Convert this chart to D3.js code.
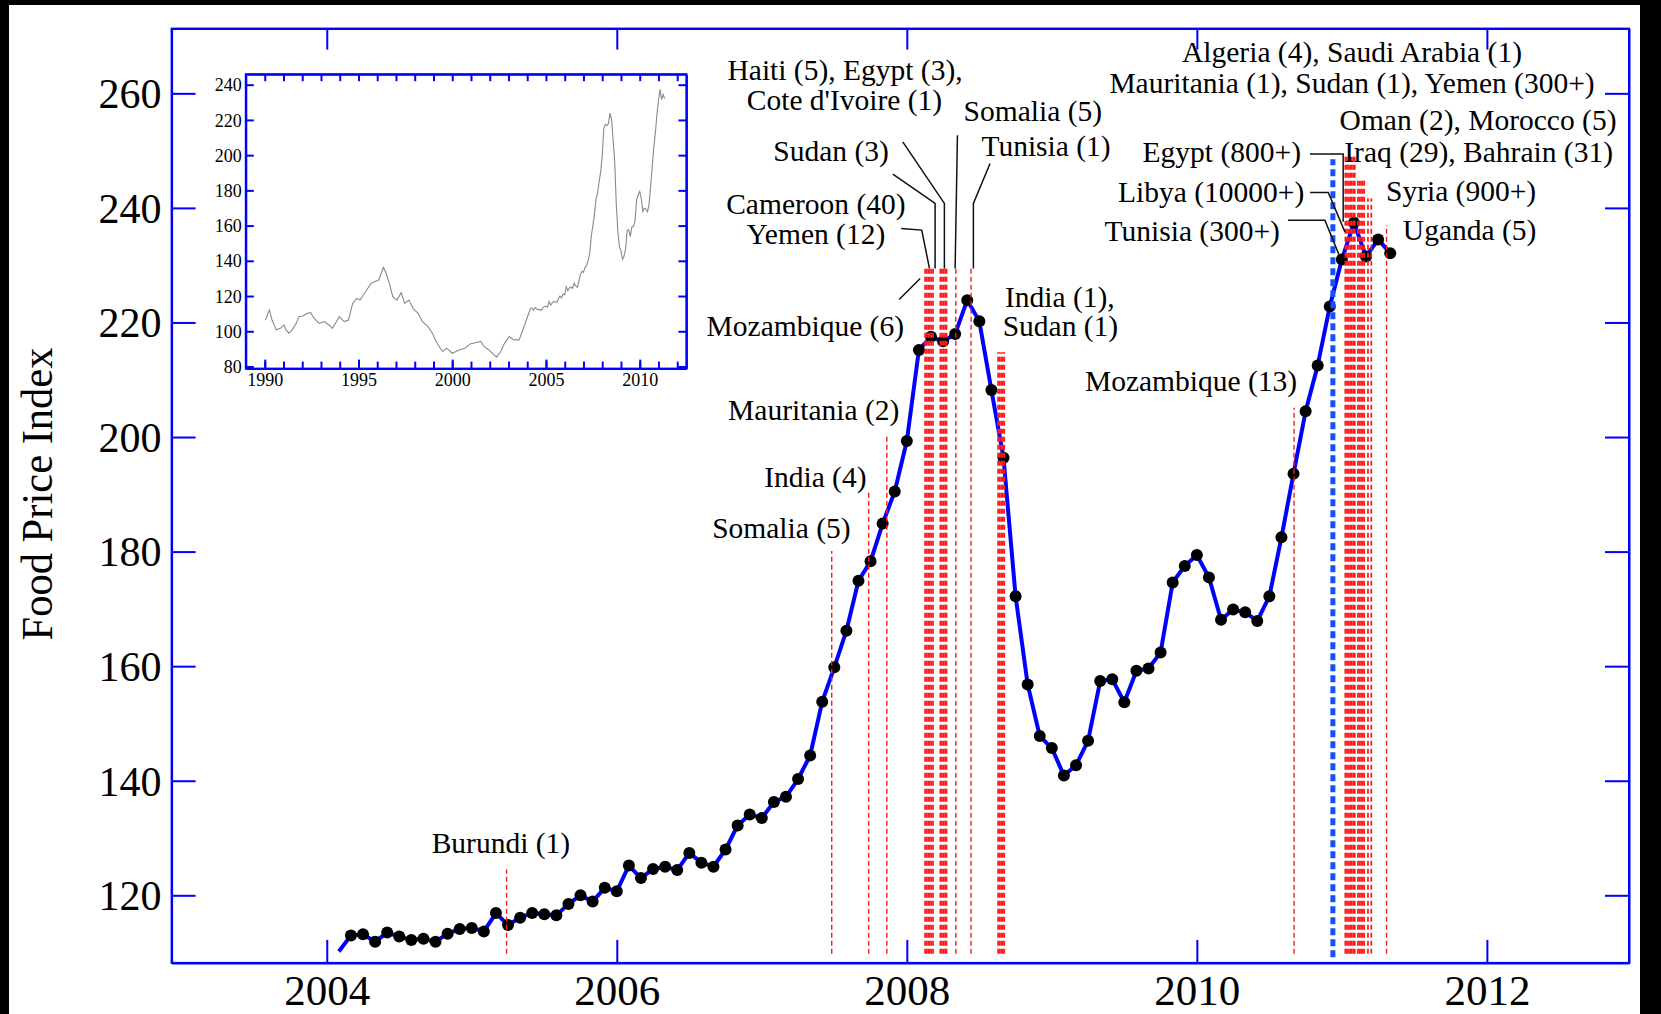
<!DOCTYPE html>
<html><head><meta charset="utf-8">
<script src="https://cdn.jsdelivr.net/npm/d3@7"></script>
<style>
html,body{margin:0;padding:0;background:#000;}
svg{display:block;}
</style></head><body>
<svg id="chart" width="1661" height="1014"></svg>
<script>
// ---------------- DATA ----------------
// FAO Food Price Index, monthly, first value = Feb 2004, last = May 2011
const seriesStart = 2004 + 1 / 12;
const foodIndex = [
  110.2, 113.0, 113.2, 111.9, 113.5, 112.8, 112.2, 112.4, 111.9, 113.3, 114.1,
  114.3, 113.7, 116.9, 114.8, 116.1, 116.9, 116.7, 116.5, 118.5, 120.0, 118.9, 121.3,
  120.7, 125.2, 123.0, 124.6, 125.0, 124.4, 127.4, 125.7, 125.0, 128.0, 132.2, 134.1,
  133.5, 136.3, 137.2, 140.3, 144.4, 153.8, 159.8, 166.2, 174.9, 178.3, 184.9, 190.5,
  199.3, 215.2, 217.5, 216.7, 218.0, 223.9, 220.2, 208.2, 196.4, 172.2, 156.8, 147.8,
  145.7, 140.9, 142.7, 147.0, 157.4, 157.7, 153.7, 159.2, 159.6, 162.4, 174.6, 177.5,
  179.4, 175.5, 168.1, 169.9, 169.4, 167.9, 172.2, 182.5, 193.6, 204.5, 212.5, 222.8,
  231.0, 237.4, 231.5, 234.5, 232.1
];
// Long history for the inset (1990-2003), [decimal year, index]
const insetHistoryYears = [
  1990.04, 1990.25, 1990.39, 1990.61, 1990.84, 1991.02, 1991.14, 1991.29, 1991.47, 1991.68,
  1991.82, 1992.04, 1992.27, 1992.45, 1992.63, 1992.90, 1993.17, 1993.43, 1993.61, 1993.83,
  1993.97, 1994.24, 1994.47, 1994.69, 1994.90, 1995.08, 1995.26, 1995.49, 1995.67, 1995.85,
  1996.08, 1996.33, 1996.48, 1996.65, 1996.83, 1997.05, 1997.28, 1997.46, 1997.69, 1997.91,
  1998.18, 1998.41, 1998.71, 1998.94, 1999.19, 1999.48, 1999.70, 2000.00, 2000.36, 2000.68,
  2000.95, 2001.52, 2001.70, 2001.96, 2002.36, 2002.59, 2002.78, 2003.04, 2003.30, 2003.57,
  2003.84
];
const insetHistoryValues = [
  106.4, 112.1, 106.4, 100.8, 101.7, 103.6, 100.8, 98.9, 100.8, 104.5,
  108.3, 108.7, 110.2, 110.6, 107.4, 104.5, 105.5, 103.6, 101.7, 105.5,
  108.3, 105.5, 106.4, 115.8, 118.7, 117.7, 120.6, 124.3, 127.2, 128.1,
  129.1, 136.2, 132.8, 127.2, 119.6, 117.7, 121.9, 115.8, 117.7, 113.0,
  110.2, 105.5, 102.6, 98.9, 93.2, 88.5, 90.4, 87.5, 89.4, 90.4,
  92.8, 94.2, 91.3, 89.4, 85.3, 88.5, 93.0, 97.0, 95.1, 95.1,
  103.0
];
// Riot / unrest events: groups of dates (decimal year) and the index level the marker reaches
const riotDates = [
  [2005.24],
  [2007.482],
  [2007.737],
  [2007.862],
  [2008.126, 2008.137, 2008.148, 2008.159, 2008.170, 2008.181],
  [2008.231, 2008.242, 2008.253, 2008.264, 2008.274],
  [2008.338],
  [2008.443],
  [2008.629, 2008.640, 2008.651, 2008.662, 2008.672],
  [2010.670],
  [2011.024, 2011.035, 2011.046, 2011.057, 2011.068, 2011.079, 2011.089],
  [2011.110, 2011.121, 2011.132, 2011.143, 2011.154],
  [2011.180, 2011.203],
  [2011.308]
];
const riotTops = [124.5, 180.1, 190.3, 200.3, 229.5, 229.5, 229.5, 229.5, 214.8, 205.1, 249.3, 244.8, 241.7, 237.0];
const riotBase = 109.8;
const tunisiaDate = 2010.938, tunisiaTop = 248.5;

const xTickValues = [2004, 2006, 2008, 2010, 2012];
const yTickValues = [120, 140, 160, 180, 200, 220, 240, 260];
const insetXLabels = [1990, 1995, 2000, 2005, 2010];
const insetYTicks = [80, 100, 120, 140, 160, 180, 200, 220, 240];

const labelTexts = [
  "Haiti (5), Egypt (3),", "Cote d'Ivoire (1)", "Somalia (5)", "Sudan (3)", "Tunisia (1)",
  "Cameroon (40)", "Yemen (12)", "Mozambique (6)", "India (1),", "Sudan (1)",
  "Mauritania (2)", "India (4)", "Somalia (5)", "Burundi (1)", "Mozambique (13)",
  "Algeria (4), Saudi Arabia (1)", "Mauritania (1), Sudan (1), Yemen (300+)",
  "Oman (2), Morocco (5)", "Egypt (800+)", "Iraq (29), Bahrain (31)", "Libya (10000+)",
  "Syria (900+)", "Tunisia (300+)", "Uganda (5)"
];

// ---------------- LAYOUT (annotation anchors, data coordinates) ----------------
const labelLayout = [
  [2007.574, 264.1], [2007.570, 258.8], [2008.869, 256.85], [2007.478, 250.0], [2008.960, 250.75],
  [2007.373, 240.6], [2007.373, 235.4], [2007.300, 219.3], [2009.055, 224.5], [2009.059, 219.3],
  [2007.358, 204.7], [2007.369, 193.05], [2007.135, 184.2], [2005.201, 129.06], [2009.960, 209.7],
  [2011.070, 267.3], [2011.070, 261.85], [2011.939, 255.4], [2010.172, 249.8], [2011.943, 249.8],
  [2010.099, 242.8], [2011.822, 243.0], [2009.968, 235.95], [2011.881, 236.1]
];
const leaderLines = [
  [[2007.9035, 245.89], [2008.195, 240.78], [2008.195, 229.43]],
  [[2007.972, 251.53], [2008.259, 240.78], [2008.259, 229.43]],
  [[2008.349, 252.70], [2008.333, 229.43]],
  [[2008.574, 247.76], [2008.459, 240.78], [2008.459, 229.43]],
  [[2007.961, 236.41], [2008.103, 236.12], [2008.156, 229.43]],
  [[2007.947, 224.02], [2008.092, 227.68]],
  [[2010.780, 249.39], [2011.009, 249.39], [2011.009, 237.57]],
  [[2010.780, 242.70], [2010.906, 242.70], [2011.021, 235.82]],
  [[2010.628, 237.86], [2010.883, 237.86], [2010.986, 231.46]]
];

// ---------------- DRAW ----------------
const FONT = "'Liberation Serif','Times New Roman',serif";
const BLUE = "#0000ff";
const svg = d3.select("#chart");
svg.append("rect").attr("x", 9).attr("y", 5).attr("width", 1631).attr("height", 1009).attr("fill", "#fff");

const P = {l: 171.6, r: 1629, t: 28.6, b: 962.9};
const x = d3.scaleLinear().domain([2002.93, 2012.98]).range([P.l, P.r]);
const y = d3.scaleLinear().domain([108.2, 271.3]).range([P.b, P.t]);

function styleAxis(g, fs) {
  g.attr("font-family", FONT).attr("font-size", fs);
  g.selectAll("line").attr("stroke", BLUE).attr("stroke-width", 2);
  g.selectAll("path.domain").attr("stroke", BLUE).attr("stroke-width", 2);
  g.selectAll("text").attr("fill", "#000");
}
const gB = svg.append("g").attr("transform", `translate(0,${P.b})`)
  .call(d3.axisBottom(x).tickValues(xTickValues).tickFormat(d3.format("d")).tickSizeInner(-23).tickSizeOuter(0));
styleAxis(gB, 43);
gB.selectAll("text").attr("y", 42).attr("dy", "0");
const gT = svg.append("g").attr("transform", `translate(0,${P.t})`)
  .call(d3.axisTop(x).tickValues(xTickValues).tickFormat("").tickSizeInner(-21).tickSizeOuter(0));
styleAxis(gT, 10);
const gL = svg.append("g").attr("transform", `translate(${P.l},0)`)
  .call(d3.axisLeft(y).tickValues(yTickValues).tickFormat(d3.format("d")).tickSizeInner(-24).tickSizeOuter(0));
styleAxis(gL, 42);
gL.selectAll("text").attr("x", -10).attr("dy", "0.34em");
const gR = svg.append("g").attr("transform", `translate(${P.r},0)`)
  .call(d3.axisRight(y).tickValues(yTickValues).tickFormat("").tickSizeInner(-24).tickSizeOuter(0));
styleAxis(gR, 10);
svg.append("rect").attr("x", P.l).attr("y", P.t).attr("width", P.r - P.l).attr("height", P.b - P.t)
  .attr("fill", "none").attr("stroke", BLUE).attr("stroke-width", 2);

svg.append("text").attr("transform", "translate(37,494) rotate(-90)")
  .attr("text-anchor", "middle").attr("dominant-baseline", "central")
  .attr("font-family", FONT).attr("font-size", 44)
  .attr("textLength", 293).attr("lengthAdjust", "spacingAndGlyphs")
  .text("Food Price Index");

// main series
const pts = foodIndex.map((v, i) => [seriesStart + i / 12, v]);
svg.append("path").datum(pts)
  .attr("fill", "none").attr("stroke", BLUE).attr("stroke-width", 4).attr("stroke-linejoin", "round")
  .attr("d", d3.line().x(d => x(d[0])).y(d => y(d[1])));
svg.append("g").selectAll("circle").data(pts.slice(1)).join("circle")
  .attr("cx", d => x(d[0])).attr("cy", d => y(d[1])).attr("r", 6).attr("fill", "#000");

// event lines
const evLines = [];
riotDates.forEach((ds, gi) => ds.forEach(d => evLines.push({d, top: riotTops[gi], multi: ds.length > 1})));
svg.append("g").selectAll("path").data(evLines).join("path")
  .attr("d", e => `M${x(e.d)},${y(riotBase)}V${y(e.top)}`)
  .attr("stroke", "#ff1a1a").attr("stroke-width", e => e.multi ? 1.7 : 1.4)
  .attr("stroke-dasharray", "5,3").attr("fill", "none");
svg.append("path")
  .attr("d", `M${x(tunisiaDate)},${y(riotBase - 0.6)}V${y(tunisiaTop)}`)
  .attr("stroke", "#1450ff").attr("stroke-width", 5).attr("stroke-dasharray", "7,4").attr("fill", "none");

// leaders
svg.append("g").selectAll("path").data(leaderLines).join("path")
  .attr("d", d3.line().x(d => x(d[0])).y(d => y(d[1])))
  .attr("fill", "none").attr("stroke", "#111").attr("stroke-width", 1.5);

// labels
svg.append("g").attr("font-family", FONT).attr("font-size", 29.5).attr("fill", "#000")
  .selectAll("text").data(labelTexts).join("text")
  .attr("x", (t, i) => x(labelLayout[i][0])).attr("y", (t, i) => y(labelLayout[i][1]))
  .attr("text-anchor", "middle").attr("dominant-baseline", "central")
  .text(t => t);

// ---------------- INSET ----------------
const I = {l: 245.8, r: 686.4, t: 74.2, b: 368.6};
const ix = d3.scaleLinear().domain([1988.99, 2012.49]).range([I.l, I.r]);
const iy = d3.scaleLinear().domain([78.8, 245.96]).range([I.b, I.t]);
svg.append("rect").attr("x", I.l).attr("y", I.t).attr("width", I.r - I.l).attr("height", I.b - I.t)
  .attr("fill", "#fff");
const yearTicks = d3.range(1990, 2013);
const iB = svg.append("g").attr("transform", `translate(0,${I.b})`)
  .call(d3.axisBottom(ix).tickValues(yearTicks).tickFormat("").tickSizeInner(-7).tickSizeOuter(0));
styleAxis(iB, 10);
const iB2 = svg.append("g").attr("transform", `translate(0,${I.b})`)
  .call(d3.axisBottom(ix).tickValues(insetXLabels).tickFormat(d3.format("d")).tickSizeInner(-9).tickSizeOuter(0));
styleAxis(iB2, 18);
iB2.selectAll("text").attr("y", 17).attr("dy", "0");
const iT = svg.append("g").attr("transform", `translate(0,${I.t})`)
  .call(d3.axisTop(ix).tickValues(yearTicks).tickFormat("").tickSizeInner(-7).tickSizeOuter(0));
styleAxis(iT, 10);
const iL = svg.append("g").attr("transform", `translate(${I.l},0)`)
  .call(d3.axisLeft(iy).tickValues(insetYTicks).tickFormat(d3.format("d")).tickSizeInner(-8).tickSizeOuter(0));
styleAxis(iL, 18);
iL.selectAll("text").attr("x", -4).attr("dy", "0.34em");
const iR = svg.append("g").attr("transform", `translate(${I.r},0)`)
  .call(d3.axisRight(iy).tickValues(insetYTicks).tickFormat("").tickSizeInner(-8).tickSizeOuter(0));
styleAxis(iR, 10);
svg.append("rect").attr("x", I.l).attr("y", I.t).attr("width", I.r - I.l).attr("height", I.b - I.t)
  .attr("fill", "none").attr("stroke", BLUE).attr("stroke-width", 2);
const insetPts = insetHistoryYears.map((yr, i) => [yr, insetHistoryValues[i]]).concat(pts);
svg.append("path").datum(insetPts)
  .attr("fill", "none").attr("stroke", "#8a8a8a").attr("stroke-width", 1.1)
  .attr("d", d3.line().x(d => ix(d[0])).y(d => iy(d[1])));
</script>
</body></html>
